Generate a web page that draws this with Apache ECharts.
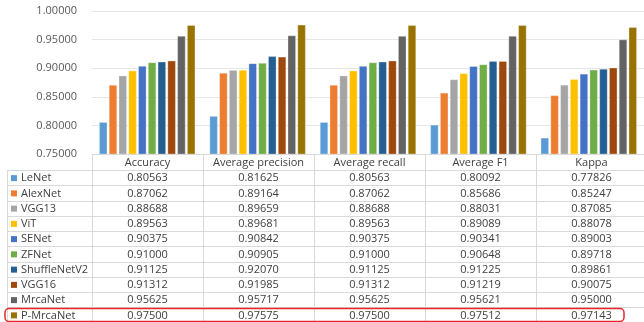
<!DOCTYPE html>
<html><head><meta charset="utf-8">
<script src="https://cdn.jsdelivr.net/npm/echarts@6/dist/echarts.min.js"></script>
<style>html,body{margin:0;padding:0;background:#fff}#c{width:644px;height:322px}</style>
</head><body><div id="c"></div>
<script>
const categories = ['Accuracy','Average precision','Average recall','Average F1','Kappa'];
const models = ['LeNet','AlexNet','VGG13','ViT','SENet','ZFNet','ShuffleNetV2','VGG16','MrcaNet','P-MrcaNet'];
const LeNet = [0.80563,0.81625,0.80563,0.80092,0.77826];
const AlexNet = [0.87062,0.89164,0.87062,0.85686,0.85247];
const VGG13 = [0.88688,0.89659,0.88688,0.88031,0.87085];
const ViT = [0.89563,0.89681,0.89563,0.89089,0.88078];
const SENet = [0.90375,0.90842,0.90375,0.90341,0.89003];
const ZFNet = [0.91000,0.90905,0.91000,0.90648,0.89718];
const ShuffleNetV2 = [0.91125,0.92070,0.91125,0.91225,0.89861];
const VGG16 = [0.91312,0.91985,0.91312,0.91219,0.90075];
const MrcaNet = [0.95625,0.95717,0.95625,0.95621,0.95000];
const PMrcaNet = [0.97500,0.97575,0.97500,0.97512,0.97143];
const seriesValues = [LeNet,AlexNet,VGG13,ViT,SENet,ZFNet,ShuffleNetV2,VGG16,MrcaNet,PMrcaNet];
const yTicks = [0.75,0.80,0.85,0.90,0.95,1.00];
const colors = ['#5B9BD5','#ED7D31','#A5A5A5','#FFC000','#4472C4','#70AD47','#255E91','#9E480E','#636363','#997300'];

const FONT = '"Open Sans", sans-serif';
const GL = 92, GT = 11, GH = 143, COLW = 111;
const TOP_ROWS = 170, ROWH = 15.25, TABLE_LEFT = 7;
const GW = COLW * categories.length;
const lineCol = '#D9D9D9';
const txtCol = '#404040';

const chart = echarts.init(document.getElementById('c'), null, {renderer:'canvas'});

const graphics = [];
// header top line
graphics.push({type:'line', shape:{x1:GL,y1:GT+GH+0.5,x2:GL+GW,y2:GT+GH+0.5}, style:{stroke:lineCol,lineWidth:1}, z:10});
// vertical lines
for (let i=0;i<=categories.length;i++){
  const x = Math.round(GL + i*COLW)+0.5;
  graphics.push({type:'line', shape:{x1:x,y1:GT+GH,x2:x,y2:322}, style:{stroke:lineCol,lineWidth:1}, z:10});
}
graphics.push({type:'line', shape:{x1:TABLE_LEFT+0.5,y1:TOP_ROWS,x2:TABLE_LEFT+0.5,y2:322}, style:{stroke:lineCol,lineWidth:1}, z:10});
// horizontal row lines
for (let r=0;r<=models.length;r++){
  const y = Math.round(TOP_ROWS + r*ROWH)+0.5;
  graphics.push({type:'line', shape:{x1:TABLE_LEFT,y1:y,x2:GL+GW,y2:y}, style:{stroke:lineCol,lineWidth:1}, z:10});
}
// header texts
categories.forEach((c,i)=>{
  graphics.push({type:'text', x:GL+i*COLW+COLW/2, y:(GT+GH+TOP_ROWS)/2+0.5, style:{text:c, fill:txtCol, font:'11px '+FONT, textAlign:'center', textVerticalAlign:'middle'}, z:11});
});
// rows
models.forEach((m,r)=>{
  const cy = TOP_ROWS + r*ROWH + ROWH/2 + 0.5;
  graphics.push({type:'rect', shape:{x:11,y:cy-3,width:6,height:6}, style:{fill:colors[r]}, z:11});
  graphics.push({type:'text', x:21, y:cy, style:{text:m, fill:txtCol, font:'11px '+FONT, textAlign:'left', textVerticalAlign:'middle'}, z:11});
  seriesValues[r].forEach((v,i)=>{
    graphics.push({type:'text', x:GL+i*COLW+COLW/2, y:cy, style:{text:v.toFixed(5), fill:txtCol, font:'11px '+FONT, textAlign:'center', textVerticalAlign:'middle'}, z:11});
  });
});
// red highlight box
graphics.push({type:'rect', shape:{x:5, y:308.5, width:619, height:13, r:4}, style:{fill:'none', stroke:'#E8262A', lineWidth:1.5}, z:12});

chart.setOption({
  animation:false,
  backgroundColor:'#fff',
  grid:{left:GL, top:GT, width:GW, height:GH, containLabel:false},
  xAxis:{type:'category', data:categories, axisLabel:{show:false}, axisTick:{show:false}, axisLine:{show:false}},
  yAxis:{type:'value', min:yTicks[0], max:yTicks[yTicks.length-1], interval:0.05,
    axisLabel:{formatter:v=>v.toFixed(5), color:'#595959', fontFamily:FONT, fontSize:11, margin:15},
    axisLine:{show:false}, axisTick:{show:false},
    splitLine:{lineStyle:{color:'#E6E6E6', width:1}}},
  series: models.map((m,k)=>({
    name:m, type:'bar', data:seriesValues[k], barGap:'21%', barCategoryGap:'13%',
    itemStyle:{color:colors[k], borderColor:'rgba(255,255,255,0.6)', borderWidth:0.5}
  })),
  graphic: graphics
});
</script></body></html>
